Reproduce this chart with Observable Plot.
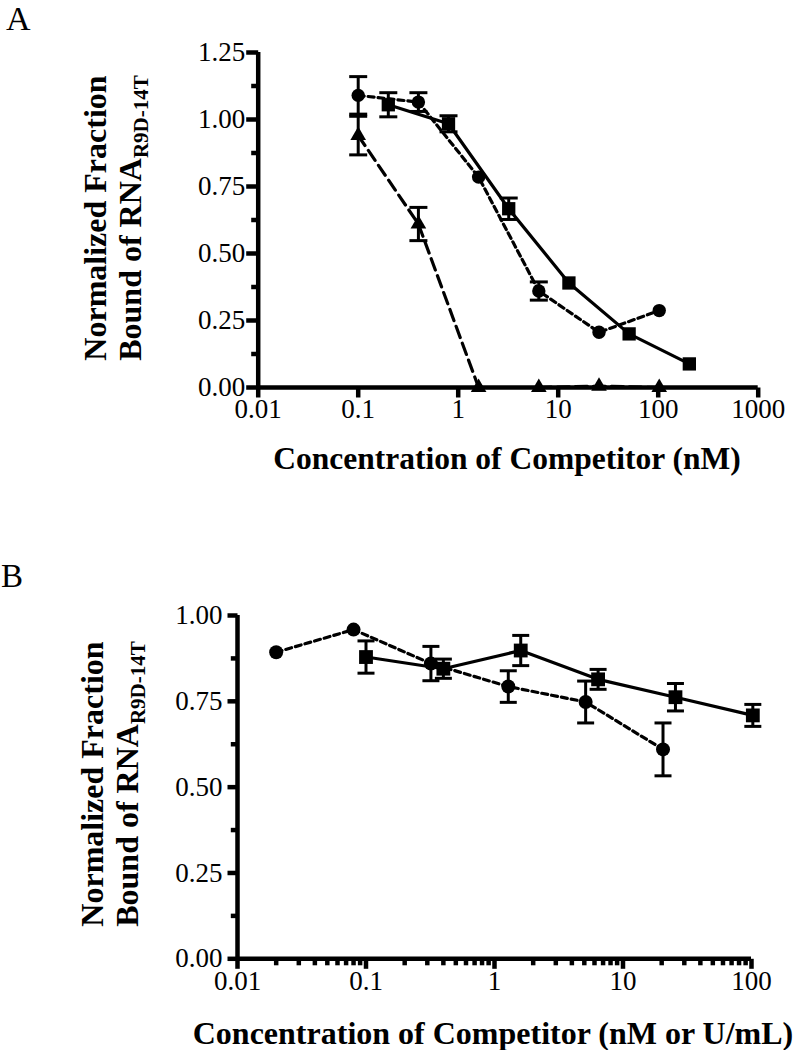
<!DOCTYPE html>
<html>
<head>
<meta charset="utf-8">
<script src="https://cdn.jsdelivr.net/npm/d3@7"></script>
<script src="https://cdn.jsdelivr.net/npm/@observablehq/plot@0.6"></script>
<style>
  html, body { margin: 0; padding: 0; background: #fff; }
  #wrap { position: relative; width: 798px; height: 1050px; overflow: hidden;
          font-family: "Liberation Serif", serif; color: #000; }
  .panel { position: absolute; left: 0; }
  .panel svg text { font-family: "Liberation Serif", serif; }
  .letter { position: absolute; font-size: 33px; line-height: 38px; }
  .xtitle { position: absolute; font-weight: bold; font-size: 31.5px; line-height: 31.5px;
            white-space: nowrap; transform: translateX(-50%); }
  .ytitle { position: absolute; font-weight: bold; font-size: 32px; line-height: 35px;
            white-space: nowrap; text-align: center; transform: translate(-50%, -50%) rotate(-90deg); }
  .ytitle sub { font-size: 21px; line-height: 0; vertical-align: -7px; }
</style>
</head>
<body>
<div id="wrap">
  <div class="letter" style="left:6px;top:0px;font-size:34px;">A</div>
  <div class="letter" style="left:1px;top:557px;">B</div>
  <div id="panelA" class="panel" style="top:0px;"></div>
  <div id="panelB" class="panel" style="top:560px;"></div>
  <div class="ytitle" style="left:113px;top:218px;">Normalized Fraction<br>Bound of RNA<sub>R9D-14T</sub></div>
  <div class="xtitle" style="left:507px;top:443px;">Concentration of Competitor (nM)</div>
  <div class="ytitle" style="left:110px;top:784px;">Normalized Fraction<br>Bound of RNA<sub>R9D-14T</sub></div>
  <div class="xtitle" style="left:493px;top:1017px;font-size:32px;line-height:32px;">Concentration of Competitor (nM or U/mL)</div>
</div>
<script>
// ---------------- Panel A data ----------------
const aXTicks = [0.01, 0.1, 1, 10, 100, 1000];
const aXTickLabels = ["0.01", "0.1", "1", "10", "100", "1000"];
const aYTicks = [0, 0.25, 0.5, 0.75, 1.0, 1.25];
const aYTickLabels = ["0.00", "0.25", "0.50", "0.75", "1.00", "1.25"];
const aYMinor = [0.125, 0.375, 0.625, 0.875, 1.125];

const aSquareX = [0.2, 0.8, 3.2, 12.8, 51.2, 204.8];
const aSquareY = [1.055, 0.984, 0.667, 0.39, 0.20, 0.088];
const aSquareErr = [0.045, 0.03, 0.04, 0, 0, 0];

const aCircleX = [0.1, 0.4, 1.6, 6.4, 25.6, 102.4];
const aCircleY = [1.09, 1.065, 0.785, 0.36, 0.206, 0.287];
const aCircleErr = [0.07, 0.035, 0, 0.034, 0, 0];

const aTriangleX = [0.1, 0.4, 1.6, 6.4, 25.6, 102.4];
const aTriangleY = [0.94, 0.61, 0, 0, 0.005, 0];
const aTriangleErr = [0.072, 0.062, 0, 0, 0, 0];

// ---------------- Panel B data ----------------
const bXTicks = [0.01, 0.1, 1, 10, 100];
const bXTickLabels = ["0.01", "0.1", "1", "10", "100"];
const bXMinor = [0.02,0.03,0.04,0.05,0.06,0.07,0.08,0.09,
                 0.2,0.3,0.4,0.5,0.6,0.7,0.8,0.9,
                 2,3,4,5,6,7,8,9,
                 20,30,40,50,60,70,80,90];
const bYTicks = [0, 0.25, 0.5, 0.75, 1.0];
const bYTickLabels = ["0.00", "0.25", "0.50", "0.75", "1.00"];
const bYMinor = [0.125, 0.375, 0.625, 0.875];

const bCircleX = [0.02, 0.08, 0.32, 1.28, 5.12, 20.48];
const bCircleY = [0.893, 0.959, 0.86, 0.793, 0.748, 0.61];
const bCircleErr = [0, 0, 0.05, 0.046, 0.061, 0.077];

const bSquareX = [0.1, 0.4, 1.6, 6.4, 25.6, 102.4];
const bSquareY = [0.879, 0.845, 0.898, 0.814, 0.762, 0.709];
const bSquareErr = [0.047, 0.028, 0.044, 0.029, 0.04, 0.032];

// ---------------- helpers ----------------
const FONT = '"Liberation Serif", serif';
const capSymbol = (w) => ({ draw(ctx) { ctx.moveTo(-w, 0); ctx.lineTo(w, 0); } });
const tickDown = (L) => ({ draw(ctx) { ctx.moveTo(0, 0); ctx.lineTo(0, L); } });
const tickLeft = (L) => ({ draw(ctx) { ctx.moveTo(0, 0); ctx.lineTo(-L, 0); } });

function rowsOf(xs, ys, es) {
  return xs.map((x, i) => ({ x, y: ys[i], lo: ys[i] - es[i], hi: ys[i] + es[i], err: es[i] }));
}

function makePanel(cfg) {
  const axisW = 4.5;
  const marks = [];
  marks.push(Plot.ruleY([{ y: cfg.yDomain[0], x1: cfg.xDomain[0], x2: cfg.xDomain[1] }],
    { y: "y", x1: "x1", x2: "x2", stroke: "black", strokeWidth: axisW }));
  marks.push(Plot.ruleX([{ x: cfg.xDomain[0], y1: cfg.yDomain[0], y2: cfg.yDomain[1] }],
    { x: "x", y1: "y1", y2: "y2", stroke: "black", strokeWidth: axisW }));
  marks.push(Plot.dot(cfg.xTicks, { x: d => d, frameAnchor: "bottom", symbol: tickDown(cfg.xTickLen),
    stroke: "black", fill: "none", strokeWidth: axisW }));
  if (cfg.xMinor) marks.push(Plot.dot(cfg.xMinor, { x: d => d, frameAnchor: "bottom", symbol: tickDown(cfg.xMinorLen),
    stroke: "black", fill: "none", strokeWidth: axisW }));
  marks.push(Plot.dot(cfg.yTicks, { y: d => d, frameAnchor: "left", symbol: tickLeft(cfg.yTickLen),
    stroke: "black", fill: "none", strokeWidth: axisW }));
  marks.push(Plot.dot(cfg.yMinor, { y: d => d, frameAnchor: "left", symbol: tickLeft(cfg.yMinorLen),
    stroke: "black", fill: "none", strokeWidth: axisW }));
  marks.push(Plot.text(cfg.xTicks, { x: d => d, text: (d, i) => cfg.xLabels[i], frameAnchor: "bottom",
    dy: cfg.xLabelDy, fontSize: 27, fontFamily: FONT, fill: "black" }));
  marks.push(Plot.text(cfg.yTicks, { y: d => d, text: (d, i) => cfg.yLabels[i], frameAnchor: "left",
    textAnchor: "end", dx: cfg.yLabelDx, fontSize: 27, fontFamily: FONT, fill: "black" }));
  for (const s of cfg.series) {
    marks.push(Plot.line(s.rows, { x: "x", y: "y", stroke: "black", strokeWidth: 3.2,
      strokeDasharray: s.dash || null }));
  }
  for (const s of cfg.series) {
    const eb = s.rows.filter(d => d.err > 0);
    marks.push(Plot.ruleX(eb, { x: "x", y1: "lo", y2: "hi", stroke: "black", strokeWidth: 3 }));
    marks.push(Plot.dot(eb, { x: "x", y: "lo", symbol: capSymbol(cfg.capHalf), stroke: "black", fill: "none", strokeWidth: 3 }));
    marks.push(Plot.dot(eb, { x: "x", y: "hi", symbol: capSymbol(cfg.capHalf), stroke: "black", fill: "none", strokeWidth: 3 }));
  }
  for (const s of cfg.series) {
    marks.push(Plot.dot(s.rows, { x: "x", y: "y", symbol: s.symbol, r: s.r, fill: "black", stroke: "none" }));
  }
  return Plot.plot({
    width: 798,
    height: cfg.height,
    marginTop: cfg.margin.top,
    marginRight: cfg.margin.right,
    marginBottom: cfg.margin.bottom,
    marginLeft: cfg.margin.left,
    x: { type: "log", domain: cfg.xDomain, axis: null },
    y: { type: "linear", domain: cfg.yDomain, axis: null },
    style: { fontFamily: FONT, fontSize: "27px", background: "transparent", color: "black", overflow: "visible" },
    marks
  });
}

const panelA = makePanel({
  height: 470,
  margin: { top: 52, right: 40.3, bottom: 83, left: 257.7 },
  xDomain: [0.01, 1000], yDomain: [0, 1.25],
  xTicks: aXTicks, xLabels: aXTickLabels, xMinor: null,
  yTicks: aYTicks, yLabels: aYTickLabels, yMinor: aYMinor,
  xTickLen: 10, xMinorLen: 6, yTickLen: 12, yMinorLen: 7,
  xLabelDy: 30, yLabelDx: -13, capHalf: 9,
  series: [
    { rows: rowsOf(aSquareX, aSquareY, aSquareErr), symbol: "square", r: 7.5, dash: null },
    { rows: rowsOf(aCircleX, aCircleY, aCircleErr), symbol: "circle", r: 6.7, dash: "6,4" },
    { rows: rowsOf(aTriangleX, aTriangleY, aTriangleErr), symbol: "triangle", r: 5.8, dash: "12,6" }
  ]
});
document.getElementById("panelA").appendChild(panelA);

const panelB = makePanel({
  height: 490,
  margin: { top: 55, right: 47, bottom: 91.7, left: 237 },
  xDomain: [0.01, 100], yDomain: [0, 1.0],
  xTicks: bXTicks, xLabels: bXTickLabels, xMinor: bXMinor,
  yTicks: bYTicks, yLabels: bYTickLabels, yMinor: bYMinor,
  xTickLen: 10, xMinorLen: 6.5, yTickLen: 10, yMinorLen: 6.7,
  xLabelDy: 31.4, yLabelDx: -15, capHalf: 8.5,
  series: [
    { rows: rowsOf(bSquareX, bSquareY, bSquareErr), symbol: "square", r: 7.8, dash: null },
    { rows: rowsOf(bCircleX, bCircleY, bCircleErr), symbol: "circle", r: 7, dash: "6,4" }
  ]
});
document.getElementById("panelB").appendChild(panelB);
</script>
</body>
</html>
